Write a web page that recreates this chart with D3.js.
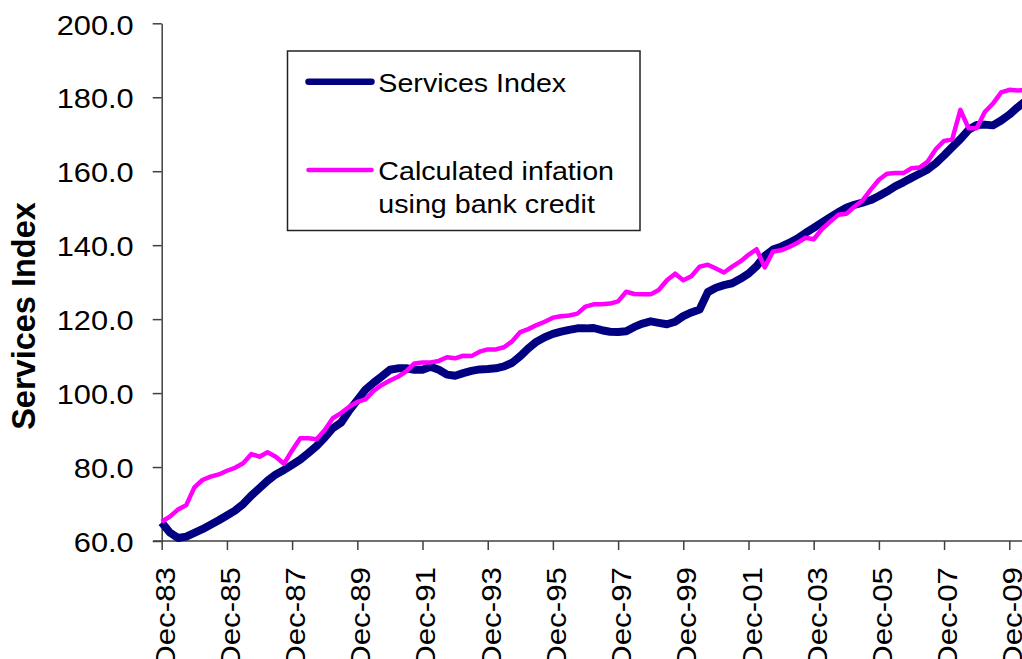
<!DOCTYPE html>
<html>
<head>
<meta charset="utf-8">
<script src="https://cdn.jsdelivr.net/npm/d3@7"></script>
<style>
  body { margin: 0; background: #fff; }
  svg { display: block; font-family: "Liberation Sans", Arial, sans-serif; }
</style>
</head>
<body>
<div class="chart"></div>
<script>
// quarterly readings, Dec-83 onwards
let startLabel = "Dec-83"
let tickLabels = ["Dec-83", "Dec-85", "Dec-87", "Dec-89", "Dec-91", "Dec-93", "Dec-95",
    "Dec-97", "Dec-99", "Dec-01", "Dec-03", "Dec-05", "Dec-07", "Dec-09"]
let yTicks = [60, 80, 100, 120, 140, 160, 180, 200]

let servicesIndex = [
    65.0, 62.3, 60.8, 61.2, 62.2, 63.2, 64.4, 65.6, 66.9, 68.2,
    70.0, 72.3, 74.3, 76.3, 78.0, 79.2, 80.6, 82.0, 83.8, 85.7,
    88.0, 90.5, 92.0, 95.3, 98.1, 100.9, 102.8, 104.5, 106.3, 106.7,
    106.7, 106.3, 106.3, 107.1, 106.3, 105.0, 104.7, 105.4, 106.0, 106.4,
    106.5, 106.7, 107.2, 108.2, 110.0, 112.1, 113.9, 115.1, 116.0, 116.6,
    117.1, 117.5, 117.5, 117.6, 117.0, 116.6, 116.5, 116.7, 117.9, 118.8,
    119.4, 119.0, 118.6, 119.3, 120.8, 121.8, 122.6, 127.3, 128.5, 129.2,
    129.7, 130.9, 132.3, 134.3, 137.1, 138.8, 139.6, 140.6, 141.8, 143.3,
    144.7, 146.1, 147.5, 148.9, 150.1, 150.9, 151.5, 152.2, 153.3, 154.5,
    155.9, 157.0, 158.2, 159.3, 160.5, 162.2, 164.3, 166.5, 168.7, 171.2,
    172.5, 172.6, 172.4, 173.7, 175.3, 177.2, 179.0
]

let calcInflation = [
    65.2, 66.6, 68.5, 69.7, 74.5, 76.5, 77.4, 78.0, 79.0, 79.8,
    81.0, 83.5, 82.8, 84.0, 82.8, 80.9, 84.5, 87.8, 87.8, 87.5,
    90.0, 93.2, 94.6, 96.3, 97.6, 98.3, 100.6, 102.2, 103.4, 104.4,
    105.9, 108.0, 108.3, 108.3, 108.7, 109.7, 109.4, 110.1, 110.0, 111.2,
    111.8, 111.8, 112.4, 114.0, 116.5, 117.3, 118.4, 119.3, 120.4, 120.8,
    121.0, 121.5, 123.4, 124.0, 124.0, 124.2, 124.8, 127.4, 126.8, 126.7,
    126.7, 127.9, 130.5, 132.3, 130.5, 131.6, 134.2, 134.7, 133.7, 132.6,
    134.2, 135.6, 137.4, 138.9, 134.0, 138.3, 138.6, 139.5, 140.6, 142.0,
    141.6, 144.3, 146.3, 148.2, 148.5, 150.4, 152.1, 155.0, 157.7, 159.3,
    159.5, 159.5, 160.8, 161.0, 162.6, 166.0, 168.2, 168.6, 176.6, 171.6,
    171.6, 176.0, 178.3, 181.3, 182.0, 181.8, 182.0
]

let parseDate = d3.timeParse('%b-%y')
let start = parseDate(startLabel)
let dates = servicesIndex.map((v, i) => d3.timeMonth.offset(start, 3 * i))
let tickDates = tickLabels.map(parseDate)

let width = 1022
let height = 659

let svg = d3.select('.chart')
    .append('svg')
    .attr('width', width)
    .attr('height', height)
    .style('background', '#fff');

//scales
let x = d3.scaleTime()
    .domain([tickDates[0], tickDates[tickDates.length - 1]])
    .range([161.7, 1009.3])

let y = d3.scaleLinear()
    .domain([60, 200])
    .range([541, 23.3])

//Axis
let yAxis = d3.axisLeft(y)
    .tickValues(yTicks)
    .tickSize(9)
    .tickSizeOuter(0)
    .tickFormat(d3.format('.1f'));

let gy = svg.append('g')
    .attr('transform', 'translate(161.7,0)')
    .call(yAxis);

gy.selectAll('text')
    .attr('x', null)
    .attr('dy', null)
    .attr('fill', '#000')
    .style('font-size', '27px')
    .attr('text-anchor', 'end')
    .attr('transform', 'translate(-28,10.7) scale(1.14,1)');

let xAxis = d3.axisBottom(x)
    .tickValues(tickDates)
    .tickSize(9)
    .tickSizeOuter(0)
    .tickFormat(d3.timeFormat('%b-%y'));

let gx = svg.append('g')
    .attr('transform', 'translate(0,541)')
    .call(xAxis);

gx.select('.domain').remove();

gx.selectAll('text')
    .attr('y', null)
    .attr('dy', null)
    .attr('fill', '#000')
    .style('font-size', '27.5px')
    .attr('text-anchor', 'end')
    .attr('transform', 'translate(12.5,26) rotate(-90) scale(1.14,1)');

svg.append('line')
    .attr('x1', 153)
    .attr('x2', width)
    .attr('y1', y(60))
    .attr('y2', y(60))
    .attr('stroke', '#404040')
    .attr('stroke-width', 1.5);

svg.selectAll('.tick line, .domain')
    .attr('stroke', '#404040')
    .attr('stroke-width', 1.5);

svg.append('text')
    .attr('transform', 'translate(35,316) rotate(-90)')
    .attr('text-anchor', 'middle')
    .style('font-size', '32.5px')
    .style('font-weight', 'bold')
    .text('Services Index');

// lines
let line = d3.line()
    .x((d, i) => x(dates[i]))
    .y(d => y(d))

svg.append('path')
    .attr('fill', 'none')
    .attr('stroke', '#000080')
    .attr('stroke-width', 8)
    .attr('stroke-linejoin', 'round')
    .attr('d', line(servicesIndex));

svg.append('path')
    .attr('fill', 'none')
    .attr('stroke', '#ff00ff')
    .attr('stroke-width', 4.5)
    .attr('stroke-linejoin', 'round')
    .attr('d', line(calcInflation));

// legend
let legend = svg.append('g');

legend.append('rect')
    .attr('x', 287.5)
    .attr('y', 51)
    .attr('width', 352.5)
    .attr('height', 179.5)
    .attr('fill', '#fff')
    .attr('stroke', '#222')
    .attr('stroke-width', 1.5);

legend.append('line')
    .attr('x1', 308.5).attr('x2', 371.5)
    .attr('y1', 81.7).attr('y2', 81.7)
    .attr('stroke', '#000080')
    .attr('stroke-width', 6.5)
    .attr('stroke-linecap', 'round');

legend.append('line')
    .attr('x1', 308.5).attr('x2', 371.5)
    .attr('y1', 170).attr('y2', 170)
    .attr('stroke', '#ff00ff')
    .attr('stroke-width', 4.5)
    .attr('stroke-linecap', 'round');

let legendText = [
    ['Services Index', 91.7],
    ['Calculated infation', 180],
    ['using bank credit', 213.3]
]

legend.selectAll('.ltext')
    .data(legendText)
    .enter()
    .append('text')
    .attr('class', 'ltext')
    .attr('transform', d => 'translate(378.3,' + d[1] + ') scale(1.12,1)')
    .style('font-size', '25.6px')
    .text(d => d[0]);
</script>
</body>
</html>
